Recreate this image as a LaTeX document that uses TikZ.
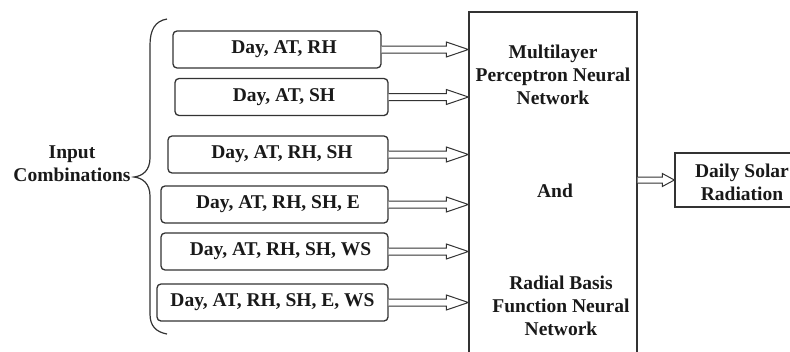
\documentclass[tikz,border=0pt]{standalone}
\usepackage{fontspec}
\setmainfont{Liberation Serif}
\usetikzlibrary{calc}
% hollow block arrow: #1 start point, #2 tip point, #3 shaft half width,
% #4 head half width, #5 head length (all in pt)
\newcommand{\hollowarrow}[5]{%
  \draw[hollow] let \p1=#1, \p2=#2 in
    (\x1,\y1+#3pt) -- (\x2-#5pt,\y1+#3pt) -- (\x2-#5pt,\y1+#4pt) -- (\x2,\y1)
    -- (\x2-#5pt,\y1-#4pt) -- (\x2-#5pt,\y1-#3pt) -- (\x1,\y1-#3pt);}
\begin{document}
\begin{tikzpicture}[x=1pt,y=-1pt,
  every node/.style={font=\fontsize{19.5}{23}\selectfont\bfseries, text=black!90},
  inbox/.style={draw=black!80, line width=1.3pt, rounded corners=4pt, inner sep=0pt, minimum height=37pt},
  plainbox/.style={draw=black!80, line width=1.3pt, inner sep=0pt},
  txt/.style={align=center, inner sep=0pt},
  hollow/.style={draw=black!80, line width=1pt, fill=white, line join=miter},
  bracestyle/.style={draw=black!80, line width=1.2pt}]
\useasboundingbox (0,0) rectangle (790,351);

% input combinations (leading space nudges the label right of centre)
\node[inbox, minimum width=208pt] (c1) at (277,49.5)  {\hspace*{14pt}Day, AT, RH};
\node[inbox, minimum width=213pt] (c2) at (281.5,97)  {\hspace*{5pt}Day, AT, SH};
\node[inbox, minimum width=220pt] (c3) at (278,154.5) {\hspace*{8pt}Day, AT, RH, SH};
\node[inbox, minimum width=227pt] (c4) at (274.5,204.5) {\hspace*{7pt}Day, AT, RH, SH, E};
\node[inbox, minimum width=227pt] (c5) at (274.5,251.5) {\hspace*{12pt}Day, AT, RH, SH, WS};
\node[inbox, minimum width=231pt] (c6) at (272.5,302.5) {Day, AT, RH, SH, E, WS};

% brace and its label
\coordinate (tip) at (134,177);
\node[txt] (ic) at (72,164) {Input\\Combinations};
\draw[bracestyle] (167,19) .. controls (155,21) and (150,30) .. (150,45)
  -- (150,158) .. controls (150,170) and (143,176) .. (tip)
  .. controls (143,178) and (150,184) .. (150,196)
  -- (150,314) .. controls (150,326) and (156,332) .. (167,334);

% model block
\node[plainbox, minimum width=168pt, minimum height=350pt] (nn) at (553,187) {};
\node[txt] (mlp) at (553,75) {Multilayer\\Perceptron Neural\\Network};
\node[txt] (and) at (555,191) {And};
\node[txt] (rbf) at (561,306) {Radial Basis\\Function Neural\\Network};

% output
\node[plainbox, minimum width=140pt, minimum height=54pt] (out) at (745,180) {};
\node[txt] (outtext) at (742,182) {Daily Solar\\Radiation};

% connectors
\foreach \c in {c1,c2,c3,c4,c5,c6}{
  \hollowarrow{(\c.east)}{(nn.west |- \c.east)}{3.5}{7.5}{22}
}
\hollowarrow{(nn.east |- out.west)}{(out.west)}{3}{6.5}{12}
\end{tikzpicture}
\end{document}
